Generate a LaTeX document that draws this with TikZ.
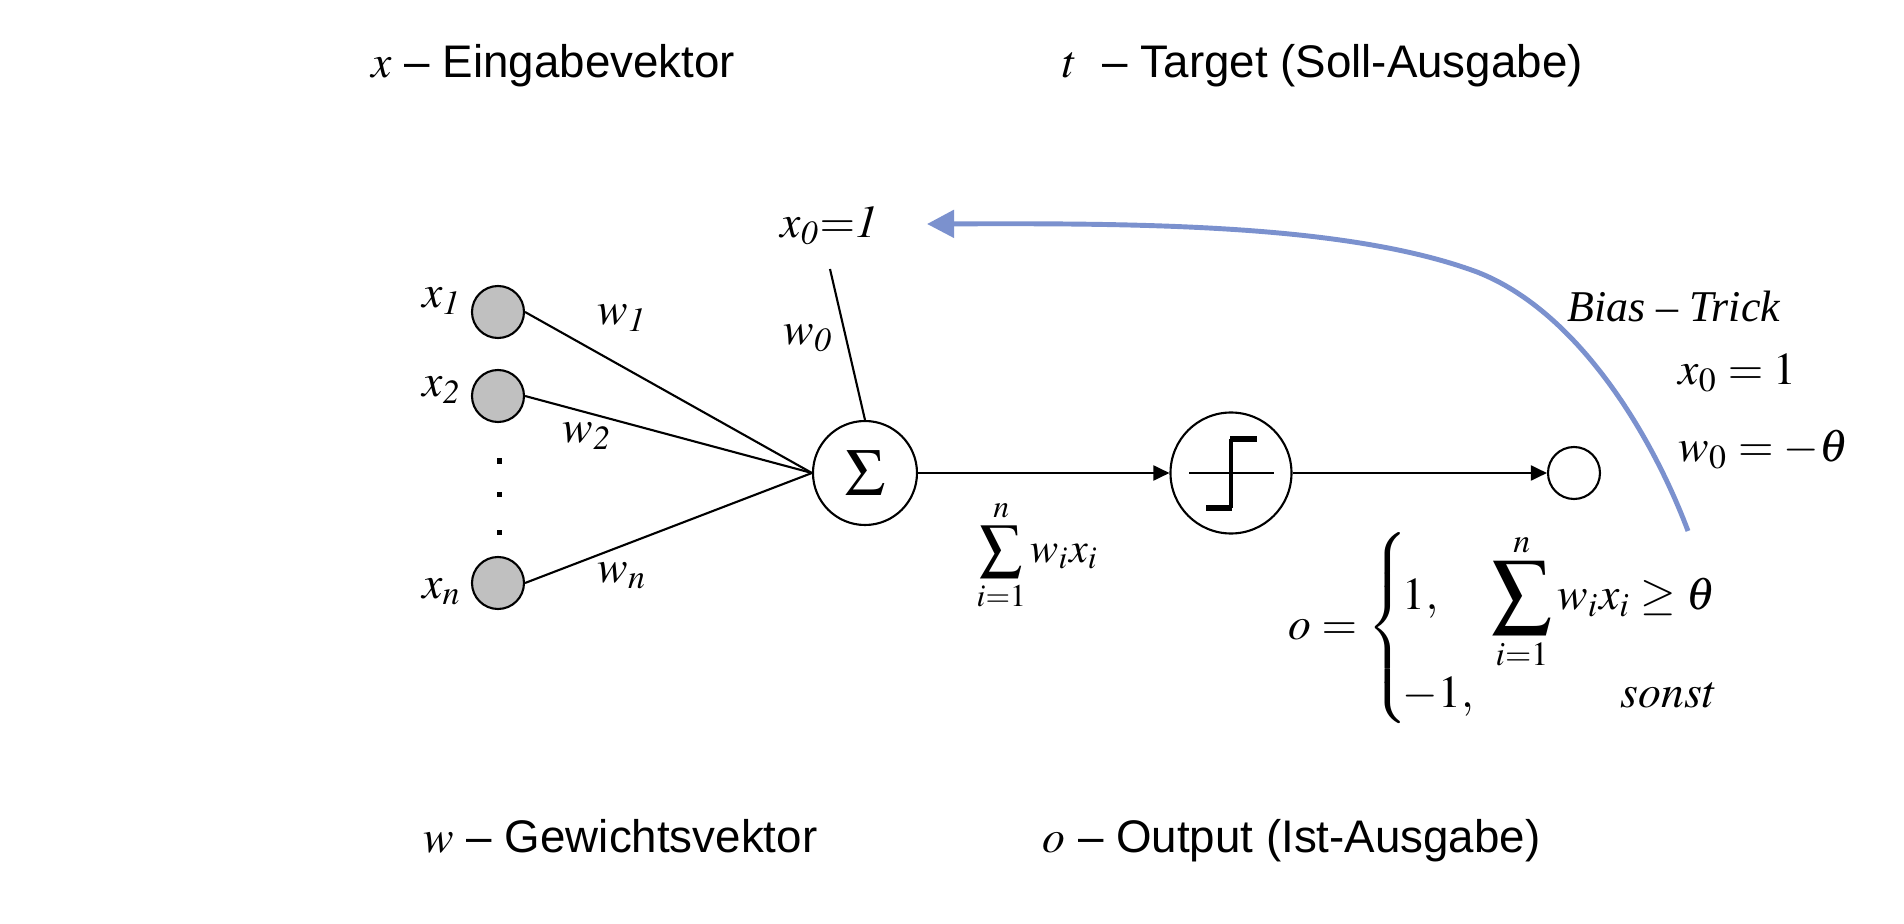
\documentclass[tikz,border=0pt]{standalone}
\usepackage{mathptmx}
\usepackage{graphicx}
\usepackage[no-math]{fontspec}
\setmainfont{Liberation Sans}
\newfontfamily\serifit{Liberation Serif}[Ligatures=TeX]
\definecolor{trickblue}{RGB}{123, 145, 206}
\definecolor{inputgray}{RGB}{192, 192, 192}
\usetikzlibrary{arrows.meta, positioning, calc}

\newcommand{\bigsum}{\mathop{\vcenter{\hbox{\scalebox{1.3}{$\displaystyle\sum$}}}}\limits}

\tikzset{
  inputnode/.style={circle, draw, fill=inputgray, minimum size=0.52cm, inner sep=0pt, line width=0.6pt},
  unitnode/.style={circle, draw, inner sep=0pt, line width=0.6pt},
  lbl/.style={inner sep=0pt, font=\fontsize{13}{15}\selectfont},
  caption/.style={inner sep=0pt, anchor=base west, font=\fontsize{13}{15}\selectfont},
  conn/.style={line width=0.6pt},
  flow/.style={line width=0.6pt, -{Triangle[length=4.6pt, width=4.3pt]}},
  trick/.style={trickblue, line width=1.4pt, -{Triangle[length=7.7pt, width=7.7pt]}}
}

\begin{document}
\begin{tikzpicture}
  \useasboundingbox (0, 0) rectangle (19.04, -9.24);

  % Captions
  \node[caption] (inlbl) at (3.71, -0.78) {$x$ -- Eingabevektor};
  \node[caption] (tlbl) at (10.62, -0.78) {$t$~ -- Target (Soll-Ausgabe)};
  \node[caption] (wlbl) at (4.23, -8.52) {$w$ -- Gewichtsvektor};
  \node[caption] (olbl) at (10.42, -8.52) {$o$ -- Output (Ist-Ausgabe)};

  % Inputs
  \node[inputnode] (x1) at (4.98, -3.12) {};
  \node[inputnode] (x2) at (4.98, -3.96) {};
  \node[inputnode] (xn) at (4.98, -5.83) {};
  \foreach \y in {4.61, 4.94, 5.32}
    \fill (4.965, -\y+0.025) rectangle ++(0.05, -0.05);

  \node[lbl, anchor=base east] (x1lbl) at (4.62, -3.08) {$x_{\mathit{1}}$};
  \node[lbl, anchor=base east] (x2lbl) at (4.62, -3.97) {$x_{\mathit{2}}$};
  \node[lbl, anchor=base east] (xnlbl) at (4.62, -5.98) {$x_n$};

  % Units
  \node[unitnode, minimum size=1.04cm, font=\fontsize{19}{21}\selectfont] (sum) at (8.65, -4.73) {$\Sigma$};
  \node[unitnode, minimum size=1.21cm] (step) at (12.31, -4.73) {};
  \node[unitnode, minimum size=0.52cm] (out) at (15.74, -4.73) {};

  % Step function
  \draw[line width=0.5pt] ($(step)+(-0.42, 0)$) -- ($(step)+(0.43, 0)$);
  \draw[line width=0.9pt] ($(step)+(0, -0.35)$) -- ($(step)+(0, 0.34)$);
  \draw[line width=1.5pt] ($(step)+(-0.25, -0.35)$) -- ($(step)+(0.01, -0.35)$);
  \draw[line width=1.5pt] ($(step)+(-0.01, 0.34)$) -- ($(step)+(0.26, 0.34)$);

  % Weights
  \draw[conn] (x1.east) -- (sum.west);
  \draw[conn] (x2.east) -- (sum.west);
  \draw[conn] (xn.east) -- (sum.west);
  \coordinate (biasin) at (8.30, -2.69);
  \draw[conn] (biasin) -- (sum.north);

  \node[lbl, anchor=base west] (w1lbl) at (5.97, -3.25) {$w_{\mathit{1}}$};
  \node[lbl, anchor=base west] (w2lbl) at (5.62, -4.43) {$w_{\mathit{2}}$};
  \node[lbl, anchor=base west] (wnlbl) at (5.97, -5.82) {$w_n$};
  \node[lbl, anchor=base west] (w0lbl) at (7.83, -3.45) {$w_{\mathit{0}}$};
  \node[lbl, anchor=base west] (x0lbl) at (7.80, -2.38) {$x_{\mathit{0}}{=}\mathit{1}$};

  % Signal flow
  \draw[flow] (sum) -- (step);
  \draw[flow] (step) -- (out);
  \node[lbl, anchor=west, font=\fontsize{12}{14}\selectfont] (netsum) at (9.76, -5.55) {$\displaystyle\sum_{i=1}^{n} w_i x_i$};

  % Output rule
  \node[lbl, anchor=west] (rule) at (12.88, -6.28) {$o = \left\{\!\begin{array}{@{}l@{\hspace{5pt}}r@{}}
    1, & \bigsum_{i=1}^{n} w_i x_i \geq \theta \\[6pt]
    -1, & \mathit{sonst}
  \end{array}\right.$};

  % Bias trick
  \coordinate (trickstart) at (16.88, -5.31);
  \coordinate (tricktip) at (9.27, -2.24);
  \draw[trick] (trickstart) .. controls (16.50, -4.30) and (15.75, -3.10) .. (14.77, -2.72)
    .. controls (13.50, -2.25) and (11.50, -2.23) .. (tricktip);
  \node[lbl, anchor=base west, font=\serifit\itshape\fontsize{12.5}{15}\selectfont] (biaslbl) at (15.67, -3.22) {Bias -- Trick};
  \node[lbl, anchor=base west] (x0rule) at (16.78, -3.85) {$x_0 = 1$};
  \node[lbl, anchor=base west] (w0rule) at (16.78, -4.62) {$w_0 = -\theta$};
\end{tikzpicture}
\end{document}
